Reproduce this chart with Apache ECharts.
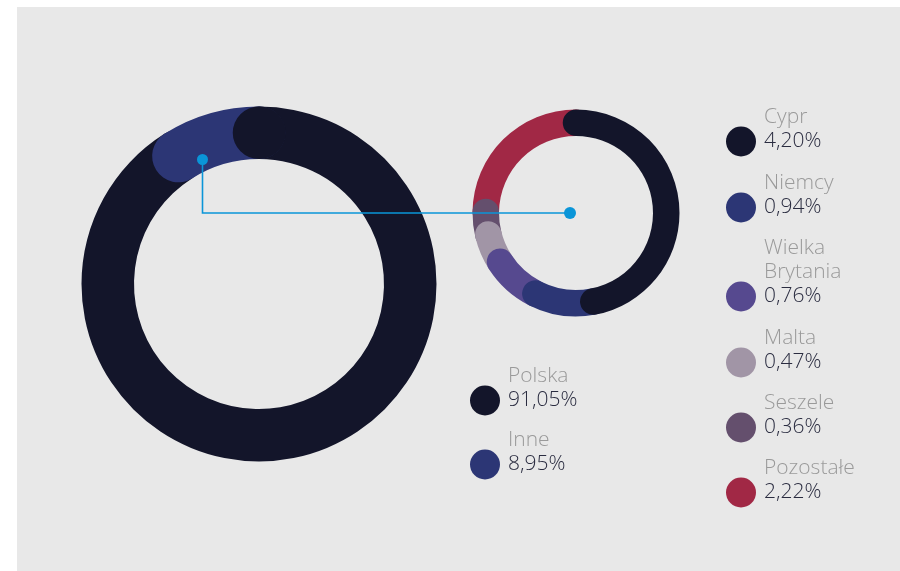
<!DOCTYPE html>
<html>
<head>
<meta charset="utf-8">
<script src="https://cdn.jsdelivr.net/npm/echarts@6/dist/echarts.min.js"></script>
<style>
html,body{margin:0;padding:0;background:#ffffff;}
#wrap{position:relative;width:900px;height:571px;overflow:hidden;}
#panel{position:absolute;left:17px;top:7px;right:0;bottom:0;background:#e8e8e8;}
#chart{position:absolute;left:0;top:0;width:900px;height:571px;}
</style>
</head>
<body>
<div id="wrap"><div id="panel"></div><div id="chart"></div></div>
<script>
// ---- data ----
const MAIN_CATEGORIES = ['Polska', 'Inne'];
const MAIN_VALUES = [91.05, 8.95];
const MAIN_COLORS = ['#13152a', '#2c3675'];

const DETAIL_CATEGORIES = ['Cypr', 'Niemcy', 'Wielka Brytania', 'Malta', 'Seszele', 'Pozostałe'];
const DETAIL_VALUES = [4.20, 0.94, 0.76, 0.47, 0.36, 2.22];
const DETAIL_COLORS = ['#13152a', '#2c3675', '#56498f', '#a195a6', '#644f6d', '#a12845'];

// ---- helpers ----
const sum = a => a.reduce((s, v) => s + v, 0);
const fmt = v => v.toFixed(2).replace('.', ',') + '%';
const LH = 24;
const FS = 21;
const FONT = '"Open Sans", "Noto Sans", sans-serif';

const valueOf = {};
MAIN_CATEGORIES.forEach((c, i) => valueOf[c] = MAIN_VALUES[i]);
DETAIL_CATEGORIES.forEach((c, i) => valueOf[c] = DETAIL_VALUES[i]);

// name lines above, value line in the middle, equal empty lines below
function legendText(name) {
  const words = name.split(' ');
  const lines = words.map(w => '{n|' + w + '}');
  lines.push('{v|' + fmt(valueOf[name]) + '}');
  words.forEach(() => lines.push('{e| }'));
  return lines.join('\n');
}

function makeLegend(name, cx, cy) {
  const nameLines = name.split(' ').length;
  return {
    data: [name],
    orient: 'vertical',
    left: cx - 15,
    top: cy - (nameLines + 0.5) * LH,
    padding: 0,
    icon: 'circle',
    itemWidth: 30,
    itemHeight: 30,
    selectedMode: false,
    formatter: legendText,
    textStyle: {
      fontFamily: FONT,
      rich: {
        n: { fontFamily: FONT, fontSize: FS, fontWeight: 300, color: '#9a9a9a', lineHeight: LH, padding: [0, 0, 0, 3] },
        v: { fontFamily: FONT, fontSize: FS, fontWeight: 300, color: '#2a2c40', lineHeight: LH, padding: [0, 0, 0, 3] },
        e: { fontSize: FS, lineHeight: LH }
      }
    }
  };
}

const BIG = { center: [259, 284], radius: [125, 177.5] };
const SMALL = { center: [576, 213], radius: [77, 103.5] };

const legends = [];
const mainCy = [402, 466];
MAIN_CATEGORIES.forEach((c, i) => legends.push(makeLegend(c, 485, mainCy[i])));
const detailCy = [143, 209, 298, 364, 429, 494];
DETAIL_CATEGORIES.forEach((c, i) => legends.push(makeLegend(c, 741, detailCy[i])));

const series = [];
MAIN_CATEGORIES.forEach((c, i) => {
  series.push({
    name: c, type: 'bar', coordinateSystem: 'polar', polarIndex: 0,
    stack: 'main', roundCap: true, barCategoryGap: '0%',
    data: [MAIN_VALUES[i]], itemStyle: { color: MAIN_COLORS[i] },
    z: 2 + i, silent: true
  });
});
// start cap of the first main segment, drawn on top of the last one
series.push({
  name: MAIN_CATEGORIES[0], type: 'bar', coordinateSystem: 'polar', polarIndex: 2,
  roundCap: true, barCategoryGap: '0%',
  data: [0.05], itemStyle: { color: MAIN_COLORS[0] },
  z: 2 + MAIN_CATEGORIES.length, silent: true
});
DETAIL_CATEGORIES.forEach((c, i) => {
  series.push({
    name: c, type: 'bar', coordinateSystem: 'polar', polarIndex: 1,
    stack: 'detail', roundCap: true, barCategoryGap: '0%',
    data: [DETAIL_VALUES[i]], itemStyle: { color: DETAIL_COLORS[i] },
    z: 2 + DETAIL_CATEGORIES.length - i, silent: true
  });
});

const polars = [BIG, SMALL, BIG].map(p => ({ center: p.center, radius: p.radius }));
const angleAxes = [sum(MAIN_VALUES), sum(DETAIL_VALUES), sum(MAIN_VALUES)].map((m, i) => ({
  polarIndex: i, type: 'value', min: 0, max: m, startAngle: 90, clockwise: true, show: false
}));
const radiusAxes = [0, 1, 2].map(i => ({ polarIndex: i, type: 'category', data: ['a'], show: false }));

const chart = echarts.init(document.getElementById('chart'), null, { renderer: 'canvas' });
chart.setOption({
  backgroundColor: 'transparent',
  animation: false,
  polar: polars,
  angleAxis: angleAxes,
  radiusAxis: radiusAxes,
  legend: legends,
  series: series,
  graphic: [
    { type: 'polyline', z: 100, silent: true,
      shape: { points: [[202.5, 159.5], [202.5, 213], [570, 213]] },
      style: { stroke: '#0a95d8', lineWidth: 1.6, fill: null } },
    { type: 'circle', z: 101, silent: true, shape: { cx: 202.5, cy: 159.5, r: 5.5 }, style: { fill: '#0a95d8' } },
    { type: 'circle', z: 101, silent: true, shape: { cx: 570, cy: 213, r: 6 }, style: { fill: '#0a95d8' } }
  ]
});
</script>
</body>
</html>
